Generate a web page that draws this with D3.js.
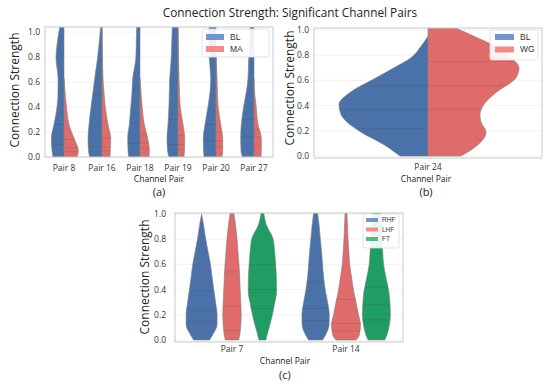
<!DOCTYPE html>
<html>
<head>
<meta charset="UTF-8">
<title>Connection Strength: Significant Channel Pairs</title>
<style>
  body { margin: 0; background: #fff; }
  svg { display: block; }
  .tick-label { font-family: "Open Sans", sans-serif; font-size: 8.5px; fill: #333; }
  .axis-title { font-family: "Open Sans", sans-serif; fill: #222; }
  .legend-text { font-family: "Liberation Sans", Arial, sans-serif; fill: #333; }
</style>
</head>
<body>
<svg id="chart" width="550" height="387"></svg>
<script src="https://d3js.org/d3.v7.min.js"></script>
<script>
// ---- data ----
const yTicks = [0, 0.2, 0.4, 0.6, 0.8, 1.0];

// (a) BL vs MA, split violins. densities given at each level
const pairsA = ["Pair 8", "Pair 16", "Pair 18", "Pair 19", "Pair 20", "Pair 27"];
const levelsA = [0, 0.05, 0.15, 0.26, 0.42, 0.52, 0.63, 0.79, 0.9, 1.05];
const blA = [
  [11, 12, 12.7, 10, 6.7, 6, 6, 8, 7, 4],
  [12.3, 13.5, 14, 13, 10.7, 9, 7.3, 4.5, 3, 1.3],
  [11.3, 12, 12.3, 10.7, 9, 8, 7.3, 4.2, 3.8, 3.3],
  [9, 10.5, 11, 10, 9, 8.7, 8.3, 6.8, 6.3, 5.7],
  [12, 12.5, 12.7, 11, 7.7, 6, 5.3, 6.7, 7, 7],
  [11.7, 13, 13.3, 12.7, 10, 7.7, 6, 5.3, 4.5, 4]
];
const maA = [
  [13, 14.3, 10, 5, 2.3, 1, 0, 0, 0, 0],
  [8, 8.3, 8.7, 6, 3, 2, 1, 0.5, 0.3, 0],
  [9, 9.3, 7.7, 4.3, 2, 1, 0, 0, 0, 0],
  [6, 6.5, 6.7, 5, 2, 1.5, 1, 0.6, 0.3, 0],
  [6, 6.7, 6.7, 4.7, 2, 1.5, 1, 0.3, 0, 0],
  [7, 7.3, 7.3, 4, 2, 0.5, 0, 0, 0, 0]
];
const quartBlA = [[0.1, 0.26, 0.55], [0.08, 0.26, 0.5], [0.11, 0.27, 0.55], [0.1, 0.3, 0.6], [0.13, 0.26, 0.5], [0.16, 0.3, 0.5]];
const quartMaA = [[0.042, 0.074, 0.14], [0.05, 0.08, 0.15], [0.07, 0.11, 0.18], [0.06, 0.1, 0.17], [0.08, 0.13, 0.2], [0.09, 0.16, 0.22]];

// (b) BL vs WG
const pairsB = ["Pair 24"];
const levelsB = [0, 0.09, 0.19, 0.27, 0.33, 0.41, 0.51, 0.62, 0.7, 0.78, 0.87, 0.95, 1.02];
const blB = [[28, 44, 67, 81, 87, 89, 77, 52, 34, 17, 7, 0, 0]];
const wgB = [[33, 50, 58, 53, 52, 56, 69, 88, 91, 83, 67, 46, 26]];
const quartBlB = [[0.22, 0.37, 0.556]];
const quartWgB = [[0.37, 0.556, 0.75]];

// (c) RHF / LHF / FT
const pairsC = ["Pair 7", "Pair 14"];
const huesC = ["RHF", "LHF", "FT"];
const levelsC = [0, 0.04, 0.12, 0.2, 0.3, 0.383, 0.5, 0.595, 0.7, 0.807, 0.913, 1.0, 1.03];
const rhfC = [
  [8, 11, 15.5, 15.5, 14, 12.5, 10.5, 9, 6.5, 4, 2, 0, 0],
  [7, 10, 13.5, 13.7, 12, 10, 8, 7, 6, 4.7, 3.5, 2.2, 2]
];
const lhfC = [
  [6.7, 7.8, 8.8, 9.2, 8.8, 8.3, 7.7, 7, 6, 5, 3.5, 2, 1.5],
  [10, 13.3, 14.5, 12.5, 10, 7.8, 5.5, 3.8, 2.8, 2, 1.5, 1, 1]
];
const ftC = [
  [3.5, 4.7, 7.5, 10, 12.5, 14.2, 14, 13.3, 12.3, 10.5, 4, 1.5, 1],
  [8.3, 10.5, 13, 14, 13.5, 12.5, 9.5, 7.3, 6.3, 5.5, 5, 4, 4]
];
const quartRhfC = [[0.145, 0.24, 0.39], [0.155, 0.25, 0.46]];
const quartLhfC = [[0.075, 0.27, 0.54], [0.07, 0.13, 0.32]];
const quartFtC = [[0.25, 0.4, 0.6], [0.16, 0.28, 0.42]];

// colours
const colBlue = "#4a72a8", colRed = "#e06b6b", colGreen = "#1f9d62";
const legBlue = "#7096cc", legRed = "#f48a8a", legGreen = "#56b886";

let svg = d3.select("#chart");
svg.append("rect").attr("width", 550).attr("height", 387).attr("fill", "#fff");

// title
svg.append("text")
  .attr("class", "axis-title")
  .attr("x", 290).attr("y", 17)
  .attr("text-anchor", "middle")
  .style("font-size", "11.8px")
  .text("Connection Strength: Significant Channel Pairs");

// trim trailing zero densities but keep one so the shape closes on the centre line
function profile(levels, dens) {
  let last = dens.length - 1;
  while (last > 0 && dens[last] === 0 && dens[last - 1] === 0) last--;
  return levels.slice(0, last + 1).map((v, i) => ({ v: v, d: dens[i] }));
}

////////////////////////////////////////////
//           draw one panel              //
//////////////////////////////////////////
function drawPanel(cfg, id) {
  let g = svg.append("g");

  let y = d3.scaleLinear().domain(cfg.yDomain).range([cfg.bottom, cfg.top]);
  let x = d3.scalePoint().domain(cfg.cats).range([cfg.left, cfg.right]).padding(0.5);
  let step = x.step();
  let w = d3.scaleLinear().domain([0, 1]).range([0, step * cfg.widthK]);

  // grid
  g.selectAll(".grid").data(yTicks).join("line")
    .attr("x1", cfg.left).attr("x2", cfg.right)
    .attr("y1", d => y(d)).attr("y2", d => y(d))
    .attr("stroke", "#efefef").attr("stroke-width", 0.8);

  let clip = g.append("clipPath").attr("id", "clip" + id);
  clip.append("rect")
    .attr("x", cfg.left).attr("y", cfg.top)
    .attr("width", cfg.right - cfg.left).attr("height", cfg.bottom - cfg.top);
  let plot = g.append("g").attr("clip-path", "url(#clip" + id + ")");

  // violins: each series has side -1 (left half), +1 (right half) or 0 (full) and a hue offset
  cfg.series.forEach(s => {
    cfg.cats.forEach((cat, ci) => {
      let cx = x(cat) + s.offset * step;
      let pts = profile(cfg.levels, s.values[ci]);
      let area = d3.area()
        .curve(d3.curveMonotoneY)
        .y(p => y(p.v));
      if (s.side === -1) area.x0(cx).x1(p => cx - w(p.d));
      else if (s.side === 1) area.x0(cx).x1(p => cx + w(p.d));
      else area.x0(p => cx - w(p.d)).x1(p => cx + w(p.d));

      plot.append("path")
        .attr("d", area(pts))
        .attr("fill", s.color)
        .attr("stroke", "#808080")
        .attr("stroke-width", 0.6);

      // quartile lines
      let interp = d3.scaleLinear().domain(cfg.levels).range(s.values[ci]).clamp(true);
      s.quart[ci].forEach(q => {
        let hw = w(interp(q));
        let xa = s.side === 1 ? cx : cx - hw;
        let xb = s.side === -1 ? cx : cx + hw;
        plot.append("line")
          .attr("x1", xa).attr("x2", xb)
          .attr("y1", y(q)).attr("y2", y(q))
          .attr("stroke", "#444").attr("stroke-opacity", 0.3).attr("stroke-width", 0.6);
      });
    });
  });

  // frame
  g.append("rect")
    .attr("x", cfg.left).attr("y", cfg.top)
    .attr("width", cfg.right - cfg.left).attr("height", cfg.bottom - cfg.top)
    .attr("fill", "none").attr("stroke", "#c8c8c8").attr("stroke-width", 1);

  // y tick labels
  g.selectAll(".ytl").data(yTicks).join("text")
    .attr("class", "tick-label")
    .attr("x", cfg.left - cfg.yLabelGap)
    .attr("y", d => y(d))
    .attr("dy", "0.35em")
    .attr("text-anchor", "end")
    .text(d => d3.format(".1f")(d));

  // x tick labels
  g.selectAll(".xtl").data(cfg.cats).join("text")
    .attr("class", "tick-label")
    .attr("x", d => x(d))
    .attr("y", cfg.bottom + cfg.dTick)
    .attr("text-anchor", "middle")
    .text(d => d);

  // axis titles
  g.append("text")
    .attr("class", "axis-title")
    .attr("x", cfg.titleX)
    .attr("y", cfg.bottom + cfg.dTitle)
    .attr("text-anchor", "middle")
    .style("font-size", "8.5px")
    .text("Channel Pair");

  g.append("text")
    .attr("class", "axis-title")
    .attr("transform", "translate(" + cfg.yTitleX + "," + cfg.yTitleY + ") rotate(-90)")
    .attr("text-anchor", "middle")
    .attr("dy", "0.35em")
    .style("font-size", "12px")
    .text("Connection Strength");

  g.append("text")
    .attr("class", "axis-title")
    .attr("x", cfg.titleX)
    .attr("y", cfg.bottom + cfg.dSub)
    .attr("text-anchor", "middle")
    .style("font-size", "11px")
    .text(cfg.sub);

  // legend
  let L = cfg.legend;
  let lg = g.append("g");
  lg.append("rect")
    .attr("x", L.x).attr("y", L.y).attr("width", L.w).attr("height", L.h)
    .attr("rx", 2).attr("fill", "#fff").attr("fill-opacity", 0.9)
    .attr("stroke", "#dcdcdc").attr("stroke-width", 0.8);
  L.items.forEach((it, i) => {
    let yy = L.y + L.first + i * L.gap;
    lg.append("rect")
      .attr("x", L.x + L.pad).attr("y", yy - L.ph / 2)
      .attr("width", L.pw).attr("height", L.ph)
      .attr("fill", it.color);
    lg.append("text")
      .attr("class", "legend-text")
      .attr("x", L.x + L.pad + L.pw + L.tgap)
      .attr("y", yy).attr("dy", "0.35em")
      .style("font-size", L.fs + "px")
      .text(it.name);
  });
}

// (a)
drawPanel({
  cats: pairsA, levels: levelsA,
  left: 45, right: 273, top: 27, bottom: 157, yDomain: [0, 1.04],
  widthK: 1 / 38, yLabelGap: 5, yTitleX: 15, yTitleY: 90, titleX: 159, sub: "(a)",
  dTick: 14, dTitle: 25, dSub: 39,
  series: [
    { values: blA, quart: quartBlA, side: -1, offset: 0, color: colBlue },
    { values: maA, quart: quartMaA, side: 1, offset: 0, color: colRed }
  ],
  legend: { x: 202, y: 29, w: 67, h: 28, pad: 4, pw: 18, ph: 6, tgap: 6, first: 8, gap: 12, fs: 8.5,
            items: [{ name: "BL", color: legBlue }, { name: "MA", color: legRed }] }
}, "a");

// (b)
drawPanel({
  cats: pairsB, levels: levelsB,
  left: 314, right: 542, top: 28, bottom: 158, yDomain: [-0.015, 1.015],
  widthK: 1 / 228, yLabelGap: 5, yTitleX: 290, yTitleY: 88, titleX: 426, sub: "(b)",
  dTick: 12, dTitle: 24, dSub: 38,
  series: [
    { values: blB, quart: quartBlB, side: -1, offset: 0, color: colBlue },
    { values: wgB, quart: quartWgB, side: 1, offset: 0, color: colRed }
  ],
  legend: { x: 490, y: 30, w: 48, h: 30, pad: 5, pw: 19, ph: 6, tgap: 6, first: 7, gap: 12.5, fs: 8.5,
            items: [{ name: "BL", color: legBlue }, { name: "WG", color: legRed }] }
}, "b");

// (c)
drawPanel({
  cats: pairsC, levels: levelsC,
  left: 175, right: 403, top: 213, bottom: 342, yDomain: [-0.016, 1.008],
  widthK: 1 / 114, yLabelGap: 9, yTitleX: 145, yTitleY: 277, titleX: 285, sub: "(c)",
  dTick: 10, dTitle: 22, dSub: 37,
  series: [
    { values: rhfC, quart: quartRhfC, side: 0, offset: -0.8 / 3, color: colBlue },
    { values: lhfC, quart: quartLhfC, side: 0, offset: 0, color: colRed },
    { values: ftC, quart: quartFtC, side: 0, offset: 0.8 / 3, color: colGreen }
  ],
  legend: { x: 363, y: 214, w: 36, h: 34, pad: 3, pw: 12, ph: 4, tgap: 4, first: 6, gap: 9.5, fs: 6.5,
            items: [{ name: "RHF", color: legBlue }, { name: "LHF", color: legRed }, { name: "FT", color: legGreen }] }
}, "c");
</script>
</body>
</html>
